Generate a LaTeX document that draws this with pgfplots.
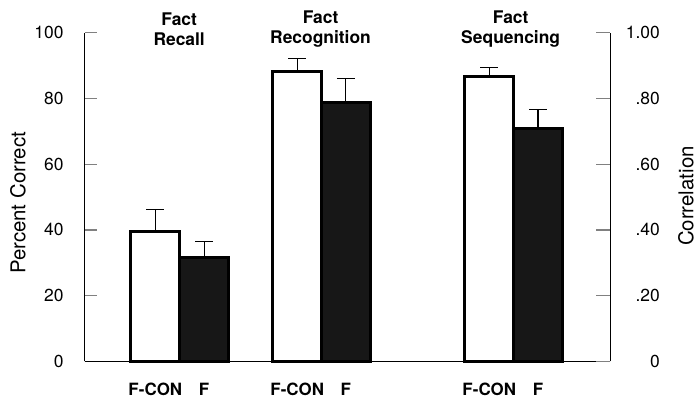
\documentclass[border=0pt]{standalone}
\usepackage{fontspec}
\setmainfont{TeX Gyre Heros}
\usepackage{pgfplots}
\pgfplotsset{compat=1.18}

% one x unit = 1pt, bars 49 units wide
\pgfplotstableread{
x    y     err
71   39.4  6.7
213.5 88.2 3.9
406.5 86.7 2.7
}\fcon
\pgfplotstableread{
x    y     err
120  31.5  4.9
262.5 78.8 7.2
455.5 70.9 5.8
}\fonly

\begin{document}
\begin{tikzpicture}
\begin{axis}[
    name=main,
    scale only axis,
    width=528pt, height=330pt,
    xmin=0, xmax=528, ymin=0, ymax=100,
    axis x line=bottom, axis y line=left,
    axis line style={-, line width=1.2pt},
    clip=false,
    ybar, bar width=49, bar shift=0pt,
    xtick={71,120,213.5,262.5,406.5,455.5},
    xticklabels={F-CON,F,F-CON,F,F-CON,F},
    x tick style={draw=none},
    xticklabel style={font=\fontsize{17}{20}\selectfont\bfseries, anchor=north, inner sep=0pt, yshift=-22pt},
    ytick={0,20,...,100},
    tick align=inside,
    y tick style={line width=1.2pt},
    major tick length=12pt,
    yticklabel style={font=\fontsize{17.5}{20}\selectfont, anchor=east, inner sep=0pt, xshift=-21pt},
    /pgf/number format/assume math mode=true,
    ylabel={Percent Correct},
    every axis y label/.style={at={(axis description cs:-0.127,0.482)}, rotate=90, anchor=center, font=\fontsize{20.5}{24}\selectfont},
    error bars/y dir=plus, error bars/y explicit,
    error bars/error mark=-,
    error bars/error bar style={line width=1.1pt, black},
    error bars/error mark options={rotate=90, mark size=9pt, line width=1.1pt, black},
]
\path (axis description cs:-0.161,-0.1212) rectangle (axis description cs:1.159,1.1);
\addplot[draw=black, line width=3pt, fill=white] table[x=x, y=y, y error=err] {\fcon};
\addplot[draw=black, line width=3pt, fill=black!91] table[x=x, y=y, y error=err] {\fonly};
\node[align=center, font=\fontsize{17.5}{20}\selectfont\bfseries] at (axis cs:95,101.2) {Fact\\Recall};
\node[align=center, font=\fontsize{17.5}{20}\selectfont\bfseries] at (axis cs:237,101.2) {Fact\\Recognition};
\node[align=center, font=\fontsize{17.5}{20}\selectfont\bfseries] at (axis cs:428,101.2) {Fact\\Sequencing};
\end{axis}
\begin{axis}[
    scale only axis,
    width=528pt, height=330pt,
    xmin=0, xmax=528, ymin=0, ymax=1,
    axis y line=right, axis x line=none,
    axis line style={-, line width=1.2pt},
    ytick={0,0.2,0.4,0.6,0.8,1},
    yticklabels={0,.20,.40,.60,.80,1.00},
    tick align=inside,
    y tick style={line width=1.2pt},
    major tick length=14pt,
    yticklabel style={font=\fontsize{17.5}{20}\selectfont, anchor=east, inner sep=0pt, xshift=50pt},
    /pgf/number format/assume math mode=true,
    ylabel={Correlation},
    every axis y label/.style={at={(axis description cs:1.144,0.503)}, rotate=90, anchor=center, font=\fontsize{20.5}{24}\selectfont},
]
\end{axis}
\end{tikzpicture}
\end{document}
